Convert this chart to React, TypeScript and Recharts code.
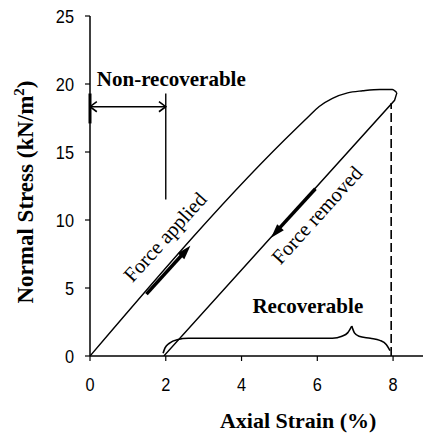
import React from 'react';
import { ComposedChart, Line, XAxis, YAxis, ReferenceLine, Scatter, Label } from 'recharts';

// stress-strain loop (strain %, stress kN/m2)
const loadStrain = [0, 5.45, 5.75, 6.05, 6.4, 6.8, 7.2, 7.65, 7.98, 8.1];
const loadStress = [0, 16.75, 17.55, 18.35, 18.95, 19.35, 19.5, 19.6, 19.6, 19.35];
const unloadStrain = [8.1, 8.04, 1.95];
const unloadStress = [19.35, 18.8, 0];

// curly brace under the "Recoverable" label
const braceLeftStrain = [1.93, 1.98, 2.1, 2.3, 2.6, 6.4, 6.65, 6.8, 6.91];
const braceLeftStress = [0.2, 0.6, 0.95, 1.2, 1.3, 1.3, 1.45, 1.7, 2.2];
const braceRightStrain = [6.91, 6.98, 7.1, 7.4, 7.65, 7.82, 7.92];
const braceRightStress = [2.2, 1.7, 1.45, 1.3, 1.15, 0.85, 0.4];

// non-recoverable double arrow
const nonRecArrowStrain = [0, 2];
const nonRecArrowStress = [18.33, 18.33];
const leftHeadStrain = [0.18, 0, 0.18];
const leftHeadStress = [18.7, 18.33, 17.96];
const rightHeadStrain = [1.82, 2, 1.82];
const rightHeadStress = [18.7, 18.33, 17.96];
const stopBarStrain = [0, 0];
const stopBarStress = [17.1, 19.3];
const limitLineStrain = [2, 2];
const limitLineStress = [11.5, 19.3];

// dashed line at maximum strain
const dashedStrain = [7.95, 7.95];
const dashedStress = [0, 18.6];

// direction arrows
const appliedShaftStrain = [1.49, 2.45];
const appliedShaftStress = [4.55, 7.5];
const removedShaftStrain = [5.95, 5.0];
const removedShaftStress = [12.3, 9.4];
const arrowTipStrain = [2.65, 4.78];
const arrowTipStress = [8.1, 8.7];
const arrowTipAngle = [-47.8, 132.2];

// text annotations
const noteTexts = ['Force applied', 'Force removed'];
const noteStrain = [1.98, 5.99];
const noteStress = [8.75, 10.37];
const boldTexts = ['Non-recoverable', 'Recoverable'];
const boldStrain = [0.18, 5.75];
const boldStress = [19.85, 3.16];
const boldAnchor = ['start', 'middle'];

const xTicks = [0, 2, 4, 6, 8];
const yTicks = [0, 5, 10, 15, 20, 25];

const zip = (xs: number[], ys: number[]) => xs.map((x, i) => ({ x, y: ys[i] }));

const loadData = zip(loadStrain, loadStress);
const unloadData = zip(unloadStrain, unloadStress);
const braceLeft = zip(braceLeftStrain, braceLeftStress);
const braceRight = zip(braceRightStrain, braceRightStress);
const leftHead = zip(leftHeadStrain, leftHeadStress);
const rightHead = zip(rightHeadStrain, rightHeadStress);
const arrowTips = arrowTipStrain.map((x, i) => ({ x, y: arrowTipStress[i], angle: arrowTipAngle[i] }));
const notes = noteStrain.map((x, i) => ({ x, y: noteStress[i], label: noteTexts[i] }));
const bolds = boldStrain.map((x, i) => ({ x, y: boldStress[i], label: boldTexts[i], anchor: boldAnchor[i] }));

const SERIF = "'Liberation Serif', 'Times New Roman', serif";
const TICKFONT = "'Liberation Sans', Arial, sans-serif";

const seg = (xs: number[], ys: number[]) => [
  { x: xs[0], y: ys[0] },
  { x: xs[1], y: ys[1] },
];

const XTick = (p: any) => (
  <text transform={`translate(${p.x}, ${p.y + 14}) scale(0.86, 1)`} textAnchor="middle" fontFamily={TICKFONT} fontSize={19} fill="#000">
    {p.payload.value}
  </text>
);

const YTick = (p: any) => (
  <text transform={`translate(${p.x}, ${p.y + 7}) scale(0.86, 1)`} textAnchor="end" fontFamily={TICKFONT} fontSize={19} fill="#000">
    {p.payload.value}
  </text>
);

const XTitle = (props: any) => {
  const vb = props.viewBox;
  return (
    <text x={vb.x + vb.width * 0.625} y={vb.y + 72} textAnchor="middle" fontFamily={SERIF} fontWeight="bold" fontSize={22} fill="#000">
      Axial Strain (%)
    </text>
  );
};

const YTitle = (props: any) => {
  const vb = props.viewBox;
  const cx = vb.x + 33;
  const cy = vb.y + 176;
  return (
    <text x={cx} y={cy} transform={`rotate(-90, ${cx}, ${cy})`} textAnchor="middle" fontFamily={SERIF} fontWeight="bold" fontSize={23} fill="#000">
      Normal Stress (kN/m<tspan dy={-9} fontSize={15}>2</tspan><tspan dy={9}>)</tspan>
    </text>
  );
};

const NoteShape = (p: any) => (
  <text
    x={p.cx}
    y={p.cy}
    transform={`rotate(-47.8, ${p.cx}, ${p.cy})`}
    textAnchor="middle"
    dominantBaseline="central"
    fontFamily={SERIF}
    fontSize={20.5}
    fill="#000"
  >
    {p.payload.label}
  </text>
);

const BoldShape = (p: any) => (
  <text x={p.cx} y={p.cy} textAnchor={p.payload.anchor} fontFamily={SERIF} fontWeight="bold" fontSize={21} fill="#000">
    {p.payload.label}
  </text>
);

const TipShape = (p: any) => (
  <polygon
    points="0,0 -14,-4.5 -14,4.5"
    fill="#000"
    transform={`translate(${p.cx}, ${p.cy}) rotate(${p.payload.angle})`}
  />
);

export default function App() {
  return (
    <div style={{ position: 'absolute', left: 0, top: 0 }}>
      <ComposedChart width={423} height={433} margin={{ top: 16, right: 0, left: 0, bottom: 47 }}>
        <XAxis
          type="number"
          dataKey="x"
          domain={[0, 8.79]}
          ticks={xTicks}
          allowDataOverflow
          height={30}
          tickSize={5}
          tickMargin={16}
          axisLine={{ stroke: '#000', strokeWidth: 1.5 }}
          tickLine={{ stroke: '#000', strokeWidth: 1.2 }}
          tick={XTick}
        >
          <Label content={XTitle} />
        </XAxis>
        <YAxis
          type="number"
          dataKey="y"
          domain={[0, 25]}
          ticks={yTicks}
          allowDataOverflow
          width={90}
          tickSize={5}
          tickMargin={11}
          axisLine={{ stroke: '#000', strokeWidth: 1.5 }}
          tickLine={{ stroke: '#000', strokeWidth: 1.2 }}
          tick={YTick}
        >
          <Label content={YTitle} />
        </YAxis>

        <ReferenceLine segment={seg(dashedStrain, dashedStress)} stroke="#000" strokeWidth={1.6} strokeDasharray="9 4" />
        <ReferenceLine segment={seg(nonRecArrowStrain, nonRecArrowStress)} stroke="#000" strokeWidth={1.4} />
        <ReferenceLine segment={seg(stopBarStrain, stopBarStress)} stroke="#000" strokeWidth={3} />
        <ReferenceLine segment={seg(limitLineStrain, limitLineStress)} stroke="#000" strokeWidth={1.4} />
        <ReferenceLine segment={seg(appliedShaftStrain, appliedShaftStress)} stroke="#000" strokeWidth={3.5} />
        <ReferenceLine segment={seg(removedShaftStrain, removedShaftStress)} stroke="#000" strokeWidth={3.5} />

        <Line data={loadData} dataKey="y" type="monotone" stroke="#000" strokeWidth={1.4} dot={false} activeDot={false} isAnimationActive={false} />
        <Line data={unloadData} dataKey="y" type="linear" stroke="#000" strokeWidth={1.4} dot={false} activeDot={false} isAnimationActive={false} />
        <Line data={braceLeft} dataKey="y" type="monotone" stroke="#000" strokeWidth={1.6} dot={false} activeDot={false} isAnimationActive={false} />
        <Line data={braceRight} dataKey="y" type="monotone" stroke="#000" strokeWidth={1.6} dot={false} activeDot={false} isAnimationActive={false} />
        <Line data={leftHead} dataKey="y" type="linear" stroke="#000" strokeWidth={1.6} dot={false} activeDot={false} isAnimationActive={false} />
        <Line data={rightHead} dataKey="y" type="linear" stroke="#000" strokeWidth={1.6} dot={false} activeDot={false} isAnimationActive={false} />

        <Scatter data={arrowTips} shape={TipShape} isAnimationActive={false} />
        <Scatter data={notes} shape={NoteShape} isAnimationActive={false} />
        <Scatter data={bolds} shape={BoldShape} isAnimationActive={false} />
      </ComposedChart>
    </div>
  );
}
